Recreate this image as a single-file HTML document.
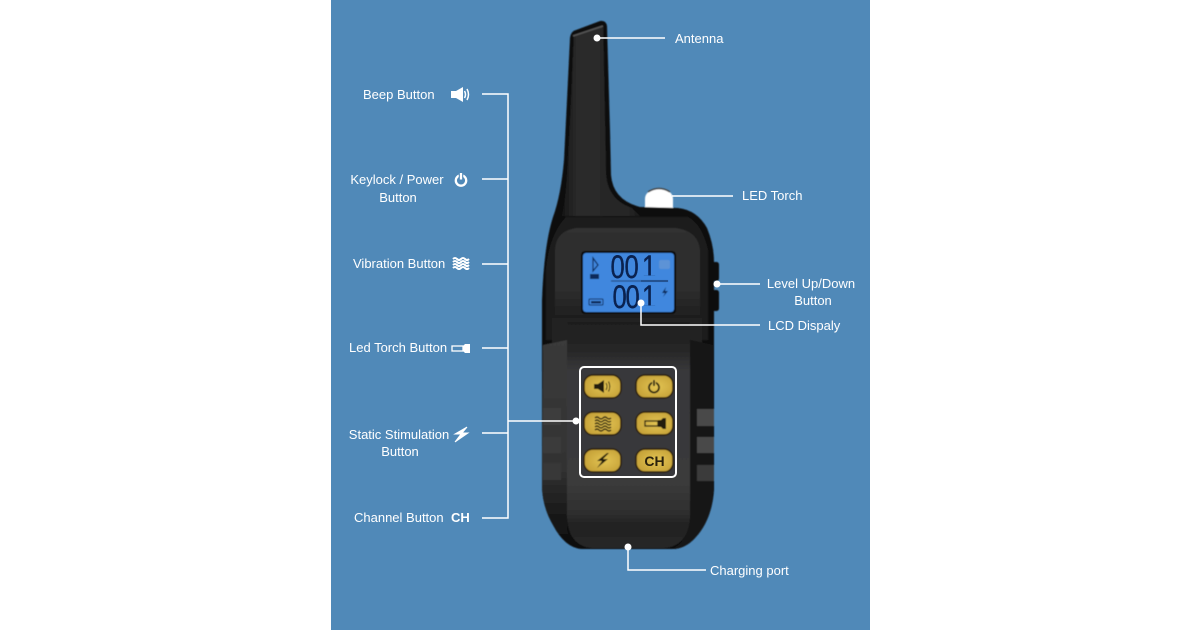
<!DOCTYPE html>
<html><head><meta charset="utf-8"><style>
html,body{margin:0;padding:0;background:#fff}
svg{display:block}
text{font-family:"Liberation Sans",sans-serif}
.l{font-size:13px;fill:#fff}
</style></head><body>
<svg width="1200" height="630" viewBox="0 0 1200 630" xmlns="http://www.w3.org/2000/svg">
<defs>
<linearGradient id="front" x1="0" x2="0" y1="0" y2="1"><stop offset="0" stop-color="#1f1f1f"/><stop offset=".12" stop-color="#262626"/><stop offset=".22" stop-color="#39393b"/><stop offset=".72" stop-color="#3a3a3a"/><stop offset=".85" stop-color="#2e2e2e"/><stop offset=".89" stop-color="#232323"/><stop offset="1" stop-color="#262626"/></linearGradient>
<linearGradient id="lcdp" x1="0" x2="0" y1="0" y2="1"><stop offset="0" stop-color="#303030"/><stop offset=".7" stop-color="#2d2d2d"/><stop offset="1" stop-color="#1e1e1e"/></linearGradient>
<linearGradient id="lstrip" x1="0" x2="0" y1="0" y2="1"><stop offset="0" stop-color="#3a3a3a"/><stop offset=".6" stop-color="#333"/><stop offset=".85" stop-color="#181818"/><stop offset="1" stop-color="#0c0c0c"/></linearGradient>
<radialGradient id="gold" cx=".55" cy=".5" r=".7"><stop offset="0" stop-color="#e3c453"/><stop offset="1" stop-color="#bf9a32"/></radialGradient>
<linearGradient id="ant" x1="0" x2="1" y1="0" y2="0"><stop offset="0" stop-color="#161616"/><stop offset=".2" stop-color="#2b2b2b"/><stop offset=".85" stop-color="#262626"/><stop offset="1" stop-color="#1a1a1a"/></linearGradient>
<filter id="soft" x="-5%" y="-5%" width="110%" height="110%"><feGaussianBlur stdDeviation=".5"/></filter>
</defs>
<rect x="331" y="0" width="539" height="630" fill="#5089b8"/>

<g filter="url(#soft)">
<!-- side buttons -->
<rect x="712" y="262" width="7" height="19" rx="2.5" fill="#111"/>
<rect x="712" y="290" width="7" height="21" rx="2.5" fill="#111"/>

<!-- torch -->
<path d="M645 208V199Q645 190 659 189Q673 190 673 199V208Z" fill="#fff"/>
<path d="M648 192Q659 185 670 192" fill="none" stroke="#444" stroke-width="1.5"/>

<!-- body -->
<path d="M570 38Q571 31 576 30L600 21Q606 20 607 26L610 130L611 175Q613 200 640 207L678 208Q697 210 707 228Q714 245 714 262V490Q712 520 695 538Q685 549 672 549H582Q565 548 553 525Q543 508 542 488V300Q544 245 553 217Q561 195 564 160L567 100Z" fill="#111"/>
<path d="M574 36L603 26L606 175Q608 200 632 208L640 216H562Q566 200 568 160L571 100Z" fill="url(#ant)"/>
<path d="M573 36L603 26" stroke="#555" stroke-width="1.5"/>
<path d="M566 217H688Q702 224 708 250V340H546V270Q549 235 566 217Z" fill="#1b1b1b"/>
<path d="M555 318V250Q556 231 576 228H676Q698 231 700 250V318Z" fill="url(#lcdp)"/>
<path d="M552 318H702V345H552Z" fill="#202020"/>
<!-- lower panels -->
<path d="M543 345L567 340V530Q570 542 582 549Q565 548 553 525Q543 508 542 488Z" fill="url(#lstrip)"/>
<path d="M690 340L713 345V490Q712 520 695 538Q685 549 672 549Q688 542 690 520Z" fill="#141414"/>
<path d="M567 322H690V518Q688 546 664 548H592Q569 546 567 518Z" fill="url(#front)"/>

<!-- LCD -->
<rect x="581" y="251" width="95" height="63" rx="4" fill="#0c0c0c"/>
<rect x="583" y="253" width="91" height="59" rx="3" fill="#3f87de"/>
<line x1="611" y1="281" x2="668" y2="281" stroke="#14315f" stroke-width="1"/>
<path d="M593 258V271L598 265Z" fill="none" stroke="#0c2a5c" stroke-width="1.2"/>
<rect x="590" y="274" width="9" height="5" fill="#0c2a5c"/>
<rect x="589" y="299" width="14" height="6" rx="1" fill="none" stroke="#0c2a5c" stroke-width="1"/>
<rect x="591" y="301" width="10" height="2.5" fill="#0c2a5c"/>
<rect x="659" y="260" width="11" height="9" rx="2" fill="#5d93d6"/>
<path d="M666 287L662 293H665L663 297L668 291H665Z" fill="#0c2a5c"/>

<!-- grips -->
<rect x="543" y="408" width="18" height="17" fill="#3d3d3d"/>
<rect x="543" y="437" width="18" height="16" fill="#3a3a3a"/>
<rect x="543" y="463" width="18" height="17" fill="#383838"/>
<rect x="697" y="409" width="17" height="17" fill="#4a4a4a"/>
<rect x="697" y="437" width="17" height="16" fill="#484848"/>
<rect x="697" y="465" width="17" height="16" fill="#3a3a3a"/>

<!-- keypad -->
<rect x="580" y="367" width="96" height="110" rx="4" fill="#38383a"/>
<g fill="url(#gold)" stroke="#2a1f08" stroke-width="1.5">
<rect x="584" y="375" width="37" height="23" rx="9"/>
<rect x="636" y="375" width="37" height="23" rx="9"/>
<rect x="584" y="412" width="37" height="23" rx="9"/>
<rect x="636" y="412" width="37" height="23" rx="9"/>
<rect x="584" y="449" width="37" height="23" rx="9"/>
<rect x="636" y="449" width="37" height="23" rx="9"/>
</g>
<g fill="#201a0a">
<path d="M594 384H598L604 380V393L598 389H594Z"/>
<path d="M606 383Q608 386.500 606 390M608.500 381.500Q611 386.500 608.500 391.500" fill="none" stroke="#201a0a"/>
<path d="M595 418Q597 416 599 418T603 418T607 418T611 418M595 421Q597 419 599 421T603 421T607 421T611 421M595 424Q597 422 599 424T603 424T607 424T611 424M595 427Q597 425 599 427T603 427T607 427T611 427M595 430Q597 428 599 430T603 430T607 430T611 430" fill="none" stroke="#201a0a" stroke-width="1.300"/>
<rect x="645" y="421" width="13" height="5" fill="none" stroke="#201a0a" stroke-width="1.300"/>
<path d="M658 420H661L663 418H666V429H663L661 427H658Z"/>
<path d="M607 453L597 461H602L597 468L608 459H603L609 453Z"/>
</g>
<circle cx="654" cy="387.500" r="5" fill="none" stroke="#201a0a" stroke-width="1.800"/>
<line x1="654" y1="380" x2="654" y2="386" stroke="#e2c458" stroke-width="3.500"/>
<line x1="654" y1="380" x2="654" y2="386" stroke="#201a0a" stroke-width="1.800"/>
</g>

<!-- LCD digits -->
<g fill="#0a2250" font-size="32" stroke="#0a2250" stroke-width=".4">
<text transform="translate(610.500 278) scale(.8 1)">0</text>
<text transform="translate(624.500 278) scale(.8 1)">0</text>
<text transform="translate(642 278) scale(.8 1)">1</text>
<text transform="translate(612.500 308) scale(.8 1)">0</text>
<text transform="translate(625.500 308) scale(.8 1)">0</text>
<text transform="translate(642 308) scale(.8 1)">1</text>
</g>
<rect x="641" y="275.500" width="16" height="4" fill="#3f87de"/>
<rect x="641" y="305.500" width="16" height="4" fill="#3f87de"/>
<line x1="641" y1="281" x2="668" y2="281" stroke="#14315f" stroke-width="1"/>
<rect x="580" y="367" width="96" height="110" rx="4" fill="none" stroke="#fff" stroke-width="2"/>
<text x="654.500" y="466" text-anchor="middle" font-size="14" font-weight="bold" fill="#2a210c">CH</text>

<!-- connectors -->
<g stroke="#fff" stroke-width="1.500" fill="none">
<path d="M597 38H665"/>
<path d="M672 196H733"/>
<path d="M717 284H760"/>
<path d="M641 303V325H760"/>
<path d="M628 547V570H706"/>
<path d="M482 94H508V518H482"/>
<path d="M482 179H508M482 264H508M482 348H508M482 433H508"/>
<path d="M508 421H576"/>
</g>
<g fill="#fff">
<circle cx="597" cy="38" r="3.500"/>
<circle cx="717" cy="284" r="3.500"/>
<circle cx="641" cy="303" r="3.500"/>
<circle cx="628" cy="547" r="3.500"/>
<circle cx="576" cy="421" r="3.500"/>
</g>

<!-- labels -->
<text class="l" x="675" y="43">Antenna</text>
<text class="l" x="742" y="200">LED Torch</text>
<text class="l" x="811" y="288" text-anchor="middle">Level Up/Down</text>
<text class="l" x="813" y="305" text-anchor="middle">Button</text>
<text class="l" x="768" y="330">LCD Dispaly</text>
<text class="l" x="710" y="575">Charging port</text>
<text class="l" x="363" y="99">Beep Button</text>
<text class="l" x="397" y="184" text-anchor="middle">Keylock / Power</text>
<text class="l" x="398" y="202" text-anchor="middle">Button</text>
<text class="l" x="353" y="268">Vibration Button</text>
<text class="l" x="349" y="352">Led Torch Button</text>
<text class="l" x="399" y="439" text-anchor="middle">Static Stimulation</text>
<text class="l" x="400" y="456" text-anchor="middle">Button</text>
<text class="l" x="354" y="522">Channel Button</text>
<text x="451" y="522" font-size="13" font-weight="bold" fill="#fff">CH</text>

<!-- left icons -->
<g fill="#fff">
<path d="M451 91H456L463 87V102L456 98H451Z"/>
<path d="M464.500 91Q466.500 94.500 464.500 98M467 89Q470 94.500 467 100" fill="none" stroke="#fff" stroke-width="1.500"/>
<path d="M453 259Q455 257 457 259T461 259T465 259T469 259M453 262Q455 260 457 262T461 262T465 262T469 262M453 265Q455 263 457 265T461 265T465 265T469 265M453 268Q455 266 457 268T461 268T465 268T469 268" fill="none" stroke="#fff" stroke-width="2"/>
<rect x="452" y="346" width="11" height="5" fill="none" stroke="#fff" stroke-width="1.300"/>
<path d="M463 346L465 344H470V353H465L463 351Z"/>
<path d="M467 427L455 434H461L455 442L468 433H462L467 427Z" stroke="#fff" stroke-width="1"/>
</g>
<circle cx="461" cy="180.500" r="5.200" fill="none" stroke="#fff" stroke-width="2.300"/>
<line x1="461" y1="173" x2="461" y2="179" stroke="#5089b8" stroke-width="4.500"/>
<line x1="461" y1="173" x2="461" y2="179.500" stroke="#fff" stroke-width="2.300"/>
</svg>
</body></html>
